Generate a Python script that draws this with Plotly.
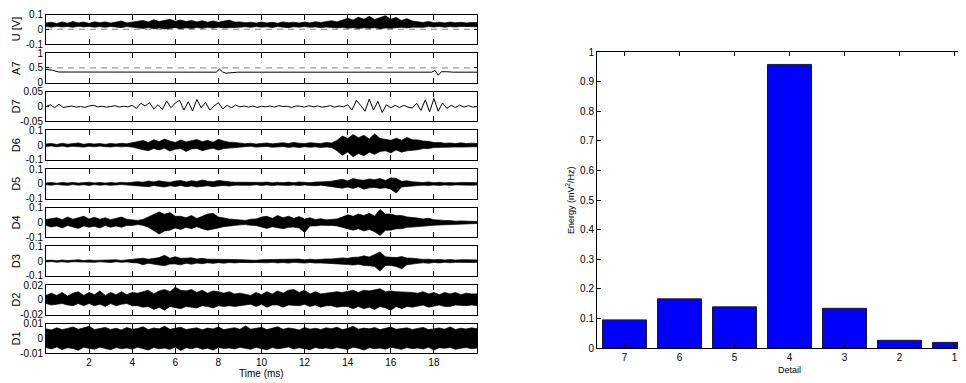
import plotly.graph_objects as go

# the page body adds an 8 px margin, so the figure is drawn 8 px smaller and positions are shifted
OFF = 8
W, H = 966 - OFF, 383 - OFF

# ---------------- data ----------------
panel_names = ["U [V]", "A7", "D7", "D6", "D5", "D4", "D3", "D2", "D1"]
panel_ranges = [[-0.1, 0.1], [0, 1], [-0.05, 0.05], [-0.1, 0.1], [-0.1, 0.1],
                [-0.1, 0.1], [-0.1, 0.1], [-0.02, 0.02], [-0.01, 0.01]]
panel_ticks = [[-0.1, 0, 0.1], [0, 0.5, 1], [-0.05, 0, 0.05], [-0.1, 0, 0.1], [-0.1, 0, 0.1],
               [-0.1, 0, 0.1], [-0.1, 0, 0.1], [-0.02, 0, 0.02], [-0.01, 0, 0.01]]
panel_ticktext = [["-0.1", "0", "0.1"], ["0", "0.5", "1"], ["-0.05", "0", "0.05"],
                  ["-0.1", "0", "0.1"], ["-0.1", "0", "0.1"], ["-0.1", "0", "0.1"],
                  ["-0.1", "0", "0.1"], ["-0.02", "0", "0.02"], ["-0.01", "0", "0.01"]]
time_ticks = [2, 4, 6, 8, 10, 12, 14, 16, 18]

# envelope sample times (ms), 0.25 ms step
env_t = [i * 0.25 for i in range(81)]

U_upper = [0.042,0.048,0.039,0.05,0.041,0.052,0.043,0.049,0.04,0.051,0.044,0.05,0.042,0.047,0.056,0.043,0.05,
           0.054,0.06,0.049,0.064,0.052,0.062,0.067,0.054,0.063,0.052,0.06,0.05,0.058,0.048,0.056,0.047,0.055,0.062,0.049,0.05,
           0.044,0.048,0.042,0.049,0.043,0.047,0.041,0.05,0.044,0.048,0.042,0.049,0.043,0.051,0.046,0.05,
           0.058,0.05,0.064,0.074,0.062,0.082,0.068,0.088,0.066,0.078,0.092,0.068,0.08,0.06,0.072,0.056,
           0.05,0.046,0.053,0.044,0.048,0.043,0.049,0.044,0.047,0.043,0.046,0.045]
U_lower = [0.018,0.014,0.02,0.015,0.019,0.013,0.02,0.016,0.019,0.014,0.018,0.013,0.019,0.015,0.011,0.018,0.014,
           0.01,0.005,0.012,0.003,0.009,0.002,0.007,0.011,0.004,0.01,0.005,0.012,0.007,0.013,0.008,0.014,0.009,0.006,0.012,0.014,
           0.017,0.013,0.018,0.014,0.017,0.012,0.018,0.015,0.011,0.017,0.014,0.018,0.013,0.016,0.011,0.015,
           0.012,0.009,0.013,0.007,0.011,0.005,0.01,0.006,0.011,0.004,0.009,0.006,0.011,0.013,0.009,0.014,
           0.016,0.013,0.018,0.015,0.019,0.014,0.018,0.015,0.019,0.016,0.018,0.017]

A7_t = [0, 0.3, 0.6, 3.0, 3.1, 3.2, 7.9, 8.05, 8.2, 8.35, 8.6, 8.9, 17.9, 18.05, 18.2, 18.35, 18.6, 18.9, 20]
A7_v = [0.45, 0.42, 0.36, 0.355, 0.37, 0.355, 0.355, 0.46, 0.36, 0.32, 0.33, 0.355, 0.355, 0.42, 0.25, 0.37, 0.37, 0.355, 0.355]

D7_t = [i * 0.2 for i in range(101)]
D7_v = [0.0,0.006,-0.004,0.008,-0.003,
        -0.001,0.002,-0.002,0.0,-0.003,0.002,0.004,-0.001,0.001,-0.002,0.0,0.003,-0.002,0.001,-0.001,
        0.004,-0.006,0.011,0.002,0.013,-0.008,0.006,-0.01,0.019,-0.004,0.012,0.021,-0.012,0.016,-0.015,0.024,-0.004,0.014,-0.012,0.002,
        0.013,-0.008,0.004,-0.004,0.005,-0.001,0.002,-0.002,
        0.002,-0.003,0.001,-0.001,0.002,-0.002,0.003,0.0,0.001,-0.003,0.002,0.001,-0.002,0.003,-0.001,0.002,-0.002,0.0,0.003,-0.002,0.002,-0.001,
        0.006,-0.012,0.021,0.004,-0.016,0.025,-0.012,0.018,-0.02,
        0.006,-0.004,0.004,-0.003,0.004,-0.002,-0.005,
        0.011,-0.013,0.023,-0.018,0.027,-0.016,0.012,
        -0.006,0.004,-0.003,0.005,-0.002,0.003,-0.002,0.0]

D6_upper = [0.008,0.012,0.005,0.013,0.007,0.011,0.015,0.006,0.012,0.008,0.011,0.006,0.012,0.008,0.013,0.009,0.016,
            0.026,0.032,0.018,0.037,0.024,0.042,0.028,0.019,0.035,0.022,0.031,0.038,0.024,0.033,0.02,0.04,0.028,0.02,0.019,0.013,
            0.01,0.013,0.008,0.012,0.015,0.009,0.013,0.017,0.011,0.019,0.013,0.011,0.017,0.012,0.011,0.019,
            0.015,0.032,0.062,0.045,0.072,0.05,0.067,0.042,0.077,0.046,0.038,0.033,0.047,0.034,0.052,0.037,
            0.036,0.028,0.026,0.018,0.019,0.013,0.015,0.011,0.016,0.011,0.014,0.011]
D6_lower = [-0.008,-0.005,-0.011,-0.006,-0.012,-0.007,-0.011,-0.013,-0.007,-0.011,-0.006,-0.01,-0.012,-0.007,-0.011,-0.008,-0.013,
            -0.02,-0.03,-0.037,-0.022,-0.032,-0.02,-0.04,-0.027,-0.023,-0.042,-0.025,-0.022,-0.037,-0.028,-0.02,-0.033,-0.023,-0.021,-0.014,-0.012,
            -0.01,-0.007,-0.013,-0.009,-0.008,-0.014,-0.01,-0.009,-0.015,-0.011,-0.016,-0.01,-0.014,-0.011,-0.016,-0.012,
            -0.015,-0.037,-0.068,-0.046,-0.078,-0.056,-0.072,-0.047,-0.062,-0.042,-0.038,-0.052,-0.032,-0.047,-0.038,-0.033,
            -0.031,-0.023,-0.023,-0.016,-0.017,-0.013,-0.013,-0.012,-0.013,-0.01,-0.012,-0.01]

D5_upper = [0.006,0.009,0.004,0.01,0.006,0.01,0.005,0.008,0.011,0.006,0.01,0.005,0.009,0.006,0.011,0.007,0.012,
            0.015,0.011,0.019,0.013,0.021,0.014,0.011,0.019,0.023,0.013,0.021,0.016,0.026,0.018,0.014,0.023,0.016,0.014,0.011,0.01,
            0.008,0.011,0.006,0.01,0.012,0.007,0.011,0.008,0.012,0.007,0.013,0.009,0.008,0.012,0.011,0.015,
            0.018,0.026,0.031,0.02,0.036,0.028,0.024,0.033,0.028,0.036,0.023,0.041,0.037,0.017,0.021,0.014,
            0.012,0.009,0.013,0.008,0.011,0.007,0.01,0.007,0.01,0.007,0.009,0.008]
D5_lower = [-0.006,-0.009,-0.004,-0.008,-0.01,-0.005,-0.009,-0.006,-0.011,-0.005,-0.009,-0.006,-0.01,-0.007,-0.005,-0.01,-0.011,
            -0.012,-0.016,-0.019,-0.011,-0.017,-0.021,-0.013,-0.018,-0.011,-0.019,-0.014,-0.021,-0.016,-0.013,-0.019,-0.014,-0.011,-0.015,-0.009,-0.009,
            -0.008,-0.01,-0.006,-0.011,-0.007,-0.012,-0.008,-0.007,-0.011,-0.008,-0.012,-0.007,-0.011,-0.013,-0.009,-0.014,
            -0.015,-0.023,-0.029,-0.022,-0.031,-0.02,-0.036,-0.027,-0.024,-0.031,-0.026,-0.036,-0.062,-0.021,-0.019,-0.014,
            -0.012,-0.009,-0.012,-0.008,-0.011,-0.007,-0.01,-0.007,-0.009,-0.007,-0.009,-0.008]

D4_upper = [0.02,0.028,0.032,0.019,0.037,0.022,0.033,0.042,0.024,0.035,0.022,0.032,0.019,0.03,0.037,0.022,0.02,
            0.014,0.021,0.037,0.052,0.072,0.056,0.067,0.042,0.042,0.032,0.047,0.027,0.04,0.057,0.062,0.037,0.031,0.023,0.021,0.016,
            0.014,0.022,0.024,0.037,0.042,0.028,0.047,0.032,0.042,0.028,0.04,0.023,0.032,0.02,0.026,0.018,
            0.021,0.024,0.037,0.052,0.042,0.057,0.047,0.062,0.043,0.088,0.057,0.057,0.047,0.047,0.038,0.036,
            0.03,0.024,0.029,0.019,0.019,0.014,0.013,0.009,0.011,0.008,0.009,0.007]
D4_lower = [-0.02,-0.03,-0.023,-0.037,-0.02,-0.032,-0.04,-0.023,-0.032,-0.026,-0.037,-0.02,-0.032,-0.023,-0.032,-0.02,-0.02,
            -0.014,-0.019,-0.032,-0.057,-0.078,-0.057,-0.052,-0.037,-0.047,-0.032,-0.042,-0.028,-0.042,-0.052,-0.042,-0.037,-0.028,-0.023,-0.019,-0.016,
            -0.014,-0.019,-0.021,-0.032,-0.04,-0.028,-0.037,-0.042,-0.033,-0.031,-0.037,-0.067,-0.024,-0.023,-0.019,-0.018,
            -0.02,-0.023,-0.037,-0.043,-0.052,-0.043,-0.057,-0.047,-0.062,-0.088,-0.052,-0.052,-0.043,-0.042,-0.033,-0.031,
            -0.028,-0.024,-0.023,-0.019,-0.017,-0.013,-0.013,-0.009,-0.01,-0.008,-0.008,-0.007]

D3_upper = [0.005,0.007,0.003,0.008,0.004,0.007,0.009,0.004,0.008,0.005,0.006,0.008,0.005,0.009,0.005,0.008,0.011,
            0.012,0.02,0.013,0.021,0.024,0.04,0.02,0.03,0.019,0.02,0.023,0.014,0.019,0.013,0.013,0.016,0.012,0.012,0.011,0.01,
            0.008,0.011,0.006,0.01,0.011,0.007,0.013,0.009,0.01,0.011,0.014,0.009,0.013,0.01,0.014,0.015,
            0.015,0.019,0.022,0.019,0.026,0.027,0.036,0.028,0.046,0.062,0.029,0.029,0.024,0.031,0.021,0.02,
            0.015,0.012,0.013,0.009,0.012,0.008,0.011,0.007,0.01,0.007,0.009,0.008]
D3_lower = [-0.005,-0.003,-0.007,-0.004,-0.008,-0.004,-0.007,-0.003,-0.007,-0.008,-0.004,-0.007,-0.009,-0.004,-0.008,-0.005,-0.01,
            -0.012,-0.024,-0.014,-0.021,-0.026,-0.031,-0.019,-0.019,-0.025,-0.014,-0.021,-0.013,-0.017,-0.011,-0.015,-0.01,-0.014,-0.009,-0.012,-0.009,
            -0.008,-0.01,-0.009,-0.008,-0.011,-0.008,-0.012,-0.009,-0.013,-0.008,-0.012,-0.013,-0.009,-0.013,-0.012,-0.014,
            -0.015,-0.019,-0.02,-0.023,-0.026,-0.021,-0.029,-0.031,-0.036,-0.067,-0.029,-0.029,-0.036,-0.052,-0.024,-0.02,
            -0.015,-0.011,-0.014,-0.009,-0.012,-0.008,-0.011,-0.008,-0.009,-0.008,-0.009,-0.008]

D2_upper = [0.006,0.009,0.006,0.01,0.005,0.009,0.011,0.006,0.01,0.007,0.012,0.006,0.01,0.007,0.011,0.007,0.01,
            0.009,0.011,0.013,0.008,0.012,0.014,0.011,0.017,0.013,0.012,0.014,0.01,0.013,0.009,0.012,0.011,0.009,0.011,0.008,0.009,
            0.008,0.006,0.01,0.007,0.011,0.008,0.012,0.009,0.013,0.014,0.01,0.013,0.008,0.011,0.008,0.009,
            0.009,0.011,0.01,0.011,0.013,0.01,0.013,0.012,0.013,0.015,0.011,0.012,0.011,0.011,0.01,0.01,
            0.009,0.011,0.008,0.01,0.007,0.01,0.008,0.01,0.007,0.009,0.008,0.008]
D2_lower = [-0.005,-0.007,-0.006,-0.005,-0.007,-0.008,-0.005,-0.008,-0.005,-0.008,-0.006,-0.009,-0.005,-0.008,-0.006,-0.005,-0.008,
            -0.008,-0.01,-0.009,-0.013,-0.01,-0.014,-0.009,-0.01,-0.012,-0.009,-0.01,-0.011,-0.008,-0.009,-0.011,-0.008,-0.009,-0.008,-0.009,-0.007,
            -0.007,-0.006,-0.009,-0.006,-0.01,-0.007,-0.007,-0.01,-0.007,-0.008,-0.008,-0.006,-0.009,-0.007,-0.01,-0.008,
            -0.008,-0.01,-0.009,-0.009,-0.012,-0.009,-0.012,-0.01,-0.013,-0.009,-0.011,-0.014,-0.009,-0.012,-0.009,-0.01,
            -0.009,-0.007,-0.01,-0.008,-0.007,-0.009,-0.009,-0.007,-0.008,-0.008,-0.007,-0.008]

D1_upper = [0.0065,0.0058,0.0072,0.006,0.0068,0.0078,0.0062,0.007,0.0082,0.006,0.0066,0.0075,0.0061,0.0069,0.0058,0.0074,0.0063,
            0.0067,0.0079,0.006,0.0071,0.0065,0.0083,0.0062,0.0069,0.0076,0.0061,0.0068,0.0072,0.0059,0.007,0.0064,0.0078,0.006,0.0067,0.0073,0.0062,
            0.0085,0.0063,0.007,0.0075,0.006,0.0068,0.0079,0.0062,0.0071,0.0066,0.0058,0.0074,0.0063,0.0069,0.0061,0.0072,
            0.0066,0.0076,0.006,0.0068,0.0082,0.0063,0.007,0.0065,0.0074,0.006,0.0069,0.0077,0.0062,0.0067,0.0072,0.0061,
            0.0068,0.0075,0.006,0.0066,0.0071,0.0063,0.0078,0.0061,0.0069,0.0064,0.0072,0.0066]
D1_lower = [-0.0062,-0.0071,-0.0058,-0.0075,-0.0063,-0.0068,-0.008,-0.006,-0.0069,-0.0073,-0.0059,-0.0066,-0.0077,-0.0061,-0.007,-0.0064,-0.0072,
            -0.006,-0.0068,-0.0078,-0.0062,-0.007,-0.0065,-0.0074,-0.0059,-0.0081,-0.0063,-0.0069,-0.006,-0.0073,-0.0066,-0.0079,-0.0061,-0.0068,-0.0064,-0.0071,-0.006,
            -0.0066,-0.0074,-0.006,-0.0069,-0.0077,-0.0062,-0.007,-0.0065,-0.0058,-0.0072,-0.0063,-0.0068,-0.0076,-0.0061,-0.0069,-0.0064,
            -0.0071,-0.0062,-0.0068,-0.0075,-0.006,-0.0066,-0.0079,-0.0063,-0.007,-0.0065,-0.0073,-0.0059,-0.0067,-0.0074,-0.0062,-0.0069,
            -0.0064,-0.0072,-0.006,-0.0078,-0.0063,-0.0067,-0.0061,-0.0074,-0.0066,-0.0062,-0.007,-0.0065]

# reference (dashed) levels for the first two panels
ref_levels = {0: 0.0, 1: 0.5}

# bar chart
detail_labels = ["7", "6", "5", "4", "3", "2", "1"]
energy_values = [0.095, 0.166, 0.139, 0.958, 0.134, 0.026, 0.019]
energy_ticks = [0, 0.1, 0.2, 0.3, 0.4, 0.5, 0.6, 0.7, 0.8, 0.9, 1]
energy_ticktext = ["0", "0.1", "0.2", "0.3", "0.4", "0.5", "0.6", "0.7", "0.8", "0.9", "1"]

envelopes = {0: (U_upper, U_lower), 3: (D6_upper, D6_lower), 4: (D5_upper, D5_lower),
             5: (D4_upper, D4_lower), 6: (D3_upper, D3_lower), 7: (D2_upper, D2_lower),
             8: (D1_upper, D1_lower)}

# ---------------- layout geometry (target window pixels) ----------------
FONT = "Liberation Sans, Arial, sans-serif"


def px(v):
    return (v - OFF) / W


def py(v):
    return 1 - (v - OFF) / H


left_x0, left_x1 = px(46), px(477)
panel_top0, panel_pitch, panel_h = 14.5, 38.65, 29.5

fig = go.Figure()
layout = dict(width=W, height=H, margin=dict(l=0, r=0, t=0, b=0, autoexpand=False),
              paper_bgcolor="white", plot_bgcolor="white", showlegend=False,
              font=dict(family=FONT, size=10, color="black"))
annotations = []

for i, name in enumerate(panel_names):
    k = i + 1
    xa, ya = f"x{k}", f"y{k}"
    top = panel_top0 + i * panel_pitch
    bot = top + panel_h
    layout[f"xaxis{k}"] = dict(domain=[left_x0, left_x1], range=[0, 20], anchor=ya, automargin=False,
                               tickvals=time_ticks, ticks="inside", ticklen=5, tickcolor="black",
                               showline=True, linecolor="black", linewidth=1, mirror="ticks",
                               showgrid=False, zeroline=False, showticklabels=(i == 8),
                               tickfont=dict(size=10, family=FONT, color="black"))
    layout[f"yaxis{k}"] = dict(domain=[py(bot), py(top)], range=panel_ranges[i], anchor=xa,
                               automargin=False,
                               tickvals=panel_ticks[i], ticktext=panel_ticktext[i],
                               ticks="inside", ticklen=3, tickcolor="black",
                               showline=True, linecolor="black", linewidth=1, mirror="ticks",
                               showgrid=False, zeroline=False,
                               tickfont=dict(size=10, family=FONT, color="black"))
    annotations.append(dict(text=name, x=px(16), y=py((top + bot) / 2), xref="paper", yref="paper",
                            textangle=-90, showarrow=False, xanchor="center", yanchor="middle",
                            font=dict(size=11, family=FONT, color="black")))
    if i in ref_levels:
        fig.add_trace(go.Scatter(x=[0, 20], y=[ref_levels[i], ref_levels[i]], mode="lines",
                                 line=dict(color="#808080", width=1, dash="6px,5px"),
                                 xaxis=xa, yaxis=ya, hoverinfo="skip"))
    if i in envelopes:
        up, lo = envelopes[i]
        pts = list(zip(env_t, up, lo))
        xs = [p[0] for p in pts] + [p[0] for p in pts[::-1]]
        ys = [p[1] for p in pts] + [p[2] for p in pts[::-1]]
        fig.add_trace(go.Scatter(x=xs, y=ys, mode="lines", fill="toself", fillcolor="black",
                                 line=dict(color="black", width=0.7), xaxis=xa, yaxis=ya,
                                 hoverinfo="skip"))
    elif i == 1:
        fig.add_trace(go.Scatter(x=A7_t, y=A7_v, mode="lines", line=dict(color="black", width=1),
                                 xaxis=xa, yaxis=ya, hoverinfo="skip"))
    elif i == 2:
        fig.add_trace(go.Scatter(x=D7_t, y=D7_v, mode="lines", line=dict(color="black", width=1),
                                 xaxis=xa, yaxis=ya, hoverinfo="skip"))

annotations.append(dict(text="Time (ms)", x=px((46 + 477) / 2), y=py(373), xref="paper", yref="paper",
                        showarrow=False, xanchor="center", yanchor="middle",
                        font=dict(size=10, family=FONT, color="black")))

# ---------------- bar chart ----------------
bar_left, bar_top, bar_bot = 597, 52, 348
fig.add_trace(go.Bar(x=detail_labels, y=energy_values, width=0.8,
                     marker=dict(color="#0000ff", line=dict(color="#1a1a1a", width=1)),
                     xaxis="x10", yaxis="y10", hoverinfo="skip"))
cat_step = 55.0
layout["xaxis10"] = dict(domain=[px(bar_left), 1.0], anchor="y10", type="category", automargin=False,
                         categoryorder="array", categoryarray=detail_labels,
                         range=[-0.5, -0.5 + (966 - bar_left) / cat_step],
                         ticks="inside", ticklen=4, tickcolor="black",
                         showline=True, linecolor="black", linewidth=1, mirror="ticks",
                         showgrid=False, zeroline=False,
                         tickfont=dict(size=10, family=FONT, color="black"))
layout["yaxis10"] = dict(domain=[py(bar_bot), py(bar_top)], range=[0, 1], anchor="x10",
                         automargin=False,
                         tickvals=energy_ticks, ticktext=energy_ticktext,
                         ticks="inside", ticklen=4, tickcolor="black",
                         showline=True, linecolor="black", linewidth=1, mirror=False,
                         showgrid=False, zeroline=False,
                         tickfont=dict(size=10, family=FONT, color="black"))
annotations.append(dict(text="Energy (mV<sup>2</sup>/Hz)", x=px(570), y=py((bar_top + bar_bot) / 2),
                        xref="paper", yref="paper", textangle=-90, showarrow=False,
                        xanchor="center", yanchor="middle",
                        font=dict(size=9, family=FONT, color="black")))
annotations.append(dict(text="Detail", x=px(789), y=py(370), xref="paper", yref="paper",
                        showarrow=False, xanchor="center", yanchor="middle",
                        font=dict(size=9, family=FONT, color="black")))

layout["annotations"] = annotations
fig.update_layout(**layout)
fig.write_html("out.html")
